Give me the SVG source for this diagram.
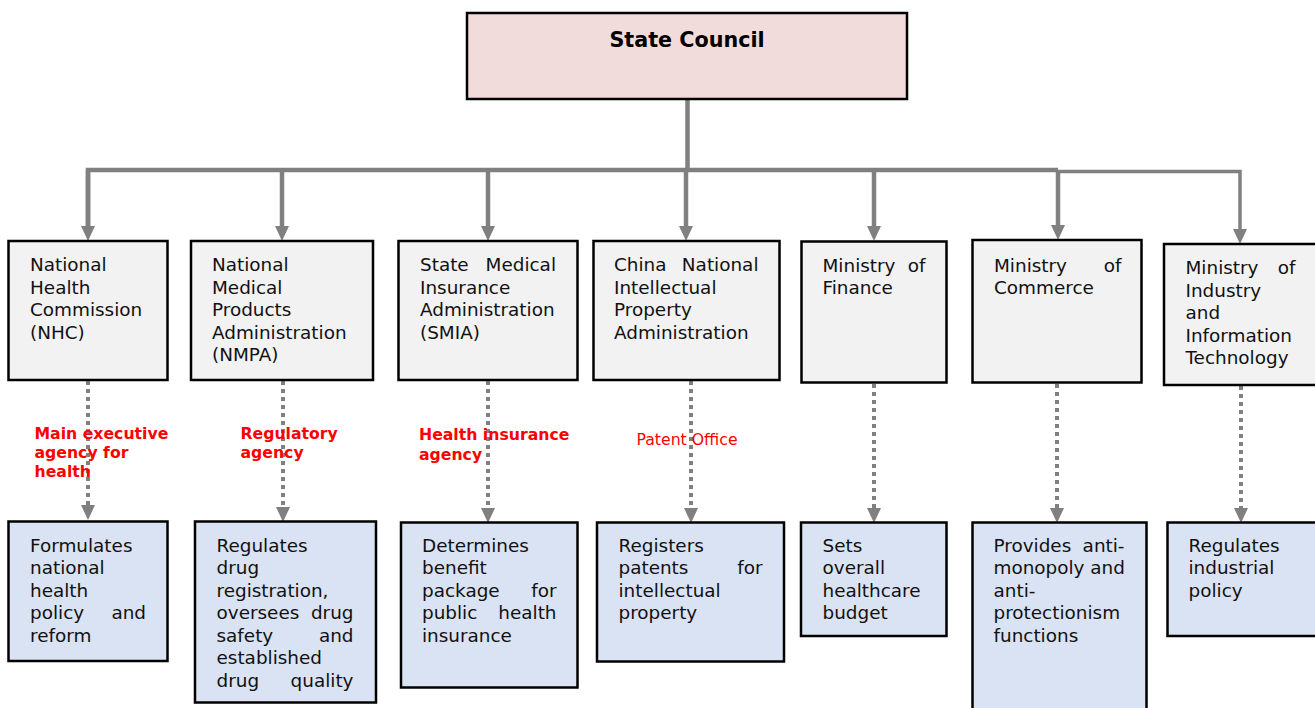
<svg xmlns="http://www.w3.org/2000/svg" width="1315" height="708" viewBox="0 0 1315 708">
<style>
.bg{fill:#ffffff}
.top{fill:#F2DCDB;stroke:#000;stroke-width:2.5}
.mid{fill:#F2F2F2;stroke:#000;stroke-width:2.5}
.bot{fill:#DAE3F3;stroke:#000;stroke-width:2.5}
.t{font-family:"DejaVu Sans",Verdana,sans-serif;font-size:18.4px;fill:#111}
.e{text-anchor:end}
.title{font-family:"DejaVu Sans",Verdana,sans-serif;font-size:20.7px;font-weight:bold;fill:#000;text-anchor:middle}
.lb{font-family:"DejaVu Sans",Verdana,sans-serif;font-size:15.7px;font-weight:bold;fill:#FF0000}
.lr{font-family:"DejaVu Sans",Verdana,sans-serif;font-size:15.7px;fill:#FF0000}
.sl{fill:none;stroke:#808080;stroke-width:4.5;stroke-linejoin:miter}
.dl{fill:none;stroke:#808080;stroke-width:4;stroke-dasharray:4 4}
</style>
<defs>
<marker id="ah" viewBox="0 0 15 14" refX="0" refY="7" markerWidth="15" markerHeight="14" markerUnits="userSpaceOnUse" orient="auto">
<path d="M0,0 L15,7 L0,14 z" fill="#808080"/>
</marker>
</defs>
<rect class="bg" x="0" y="0" width="1315" height="708"/>

<g id="connectors">
<path class="sl" d="M687.5,99 V170"/>
<path class="sl" d="M88,226 V170 H1058"/>
<path class="sl" d="M88,170 V226" marker-end="url(#ah)"/>
<path class="sl" d="M282,170 V226" marker-end="url(#ah)"/>
<path class="sl" d="M488,170 V226" marker-end="url(#ah)"/>
<path class="sl" d="M686,170 V226" marker-end="url(#ah)"/>
<path class="sl" d="M874,170 V226" marker-end="url(#ah)"/>
<path class="sl" d="M1058,170 V225" marker-end="url(#ah)"/>
<path class="sl" style="stroke-width:3.5" d="M1058,171.5 H1240 V229" marker-end="url(#ah)"/>
<path class="dl" d="M88,381 V505" marker-end="url(#ah)"/>
<path class="dl" d="M283,381 V507" marker-end="url(#ah)"/>
<path class="dl" d="M488,381 V508" marker-end="url(#ah)"/>
<path class="dl" d="M691,381 V508" marker-end="url(#ah)"/>
<path class="dl" d="M874,384 V508" marker-end="url(#ah)"/>
<path class="dl" d="M1057,384 V508" marker-end="url(#ah)"/>
<path class="dl" d="M1241,386 V508" marker-end="url(#ah)"/>
</g>

<g id="state-council">
<rect class="top" x="467" y="13" width="440" height="86"/>
<text class="title" x="687" y="46.5">State Council</text>
</g>

<g id="nhc">
<rect class="mid" x="8.5" y="241" width="159" height="139"/>
<text class="t" x="30" y="271">National</text>
<text class="t" x="30" y="293.5">Health</text>
<text class="t" x="30" y="316">Commission</text>
<text class="t" x="30" y="338.5">(NHC)</text>
</g>

<g id="nmpa">
<rect class="mid" x="191" y="241" width="182" height="139"/>
<text class="t" x="212" y="271">National</text>
<text class="t" x="212" y="293.5">Medical</text>
<text class="t" x="212" y="316">Products</text>
<text class="t" x="212" y="338.5">Administration</text>
<text class="t" x="212" y="361">(NMPA)</text>
</g>

<g id="smia">
<rect class="mid" x="398.5" y="241" width="179" height="139"/>
<text class="t" x="420" y="271">State</text>
<text class="t e" x="556" y="271">Medical</text>
<text class="t" x="420" y="293.5">Insurance</text>
<text class="t" x="420" y="316">Administration</text>
<text class="t" x="420" y="338.5">(SMIA)</text>
</g>

<g id="cnipa">
<rect class="mid" x="593.5" y="241" width="186" height="139"/>
<text class="t" x="614" y="271">China</text>
<text class="t e" x="758.5" y="271">National</text>
<text class="t" x="614" y="293.5">Intellectual</text>
<text class="t" x="614" y="316">Property</text>
<text class="t" x="614" y="338.5">Administration</text>
</g>

<g id="mof">
<rect class="mid" x="801.5" y="241.5" width="145" height="141"/>
<text class="t" x="822.5" y="271.5">Ministry</text>
<text class="t e" x="925.5" y="271.5">of</text>
<text class="t" x="822.5" y="294">Finance</text>
</g>

<g id="mofcom">
<rect class="mid" x="972.5" y="240" width="169" height="142.5"/>
<text class="t" x="994" y="271.5">Ministry</text>
<text class="t e" x="1121.5" y="271.5">of</text>
<text class="t" x="994" y="294">Commerce</text>
</g>

<g id="miit">
<rect class="mid" x="1164" y="244" width="160" height="141"/>
<text class="t" x="1185.5" y="274">Ministry</text>
<text class="t e" x="1295.5" y="274">of</text>
<text class="t" x="1185.5" y="296.5">Industry</text>
<text class="t" x="1185.5" y="319">and</text>
<text class="t" x="1185.5" y="341.5">Information</text>
<text class="t" x="1185.5" y="364">Technology</text>
</g>

<g id="labels">
<text class="lb" x="34.5" y="438.5">Main executive</text>
<text class="lb" x="34.5" y="457.5">agency for</text>
<text class="lb" x="34.5" y="476.5">health</text>
<text class="lb" x="240.5" y="438.5">Regulatory</text>
<text class="lb" x="240.5" y="457.5">agency</text>
<text class="lb" x="419" y="440">Health insurance</text>
<text class="lb" x="419" y="460">agency</text>
<text class="lr" x="636.5" y="444.5">Patent Office</text>
</g>

<g id="nhc-role">
<rect class="bot" x="8.5" y="521.5" width="159" height="139.5"/>
<text class="t" x="30" y="551.5">Formulates</text>
<text class="t" x="30" y="574">national</text>
<text class="t" x="30" y="596.5">health</text>
<text class="t" x="30" y="619">policy</text>
<text class="t e" x="146" y="619">and</text>
<text class="t" x="30" y="641.5">reform</text>
</g>

<g id="nmpa-role">
<rect class="bot" x="195" y="521.5" width="181" height="181"/>
<text class="t" x="216.5" y="551.5">Regulates</text>
<text class="t" x="216.5" y="574">drug</text>
<text class="t" x="216.5" y="596.5">registration,</text>
<text class="t" x="216.5" y="619">oversees</text>
<text class="t e" x="353.5" y="619">drug</text>
<text class="t" x="216.5" y="641.5">safety</text>
<text class="t e" x="353.5" y="641.5">and</text>
<text class="t" x="216.5" y="664">established</text>
<text class="t" x="216.5" y="686.5">drug</text>
<text class="t e" x="353.5" y="686.5">quality</text>
</g>

<g id="smia-role">
<rect class="bot" x="401" y="522.5" width="176.5" height="165"/>
<text class="t" x="422" y="551.5">Determines</text>
<text class="t" x="422" y="574">benefit</text>
<text class="t" x="422" y="596.5">package</text>
<text class="t e" x="556.5" y="596.5">for</text>
<text class="t" x="422" y="619">public</text>
<text class="t e" x="556.5" y="619">health</text>
<text class="t" x="422" y="641.5">insurance</text>
</g>

<g id="cnipa-role">
<rect class="bot" x="597" y="522.5" width="187" height="139"/>
<text class="t" x="618.5" y="551.5">Registers</text>
<text class="t" x="618.5" y="574">patents</text>
<text class="t e" x="762.5" y="574">for</text>
<text class="t" x="618.5" y="596.5">intellectual</text>
<text class="t" x="618.5" y="619">property</text>
</g>

<g id="mof-role">
<rect class="bot" x="801" y="522.5" width="145.5" height="113.5"/>
<text class="t" x="822.5" y="551.5">Sets</text>
<text class="t" x="822.5" y="574">overall</text>
<text class="t" x="822.5" y="596.5">healthcare</text>
<text class="t" x="822.5" y="619">budget</text>
</g>

<g id="mofcom-role">
<rect class="bot" x="972.5" y="522.5" width="174" height="200"/>
<text class="t" x="993.5" y="551.5">Provides</text>
<text class="t e" x="1124.5" y="551.5">anti-</text>
<text class="t" x="993.5" y="574">monopoly and</text>
<text class="t" x="993.5" y="596.5">anti-</text>
<text class="t" x="993.5" y="619">protectionism</text>
<text class="t" x="993.5" y="641.5">functions</text>
</g>

<g id="miit-role">
<rect class="bot" x="1167.5" y="522.5" width="160" height="113.5"/>
<text class="t" x="1188.5" y="551.5">Regulates</text>
<text class="t" x="1188.5" y="574">industrial</text>
<text class="t" x="1188.5" y="596.5">policy</text>
</g>
</svg>
